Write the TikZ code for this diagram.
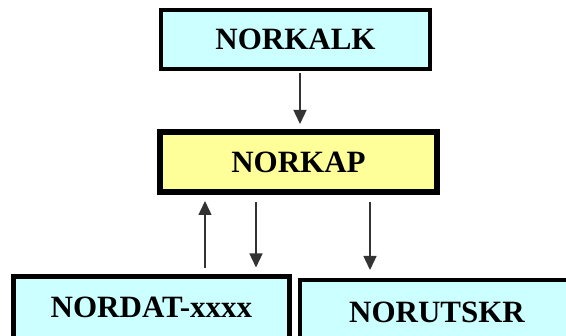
\documentclass[tikz,border=0pt]{standalone}
\usepackage{fontspec}
\setmainfont{Liberation Serif}
\usetikzlibrary{arrows.meta}
\definecolor{boxcyan}{HTML}{CCFFFF}
\definecolor{boxyellow}{HTML}{FFFF99}

\begin{document}
\begin{tikzpicture}[x=1pt, y=-1pt,
modbox/.style={rectangle, draw=black, fill=boxcyan, line width=4pt, font=\fontsize{31}{34}\selectfont\bfseries, inner sep=0pt},
mainbox/.style={modbox, fill=boxyellow, line width=6pt},
to/.style={-{Triangle[width=13pt,length=14pt]}, draw=black!80, line width=1.4pt},
]
\useasboundingbox[clip] (0,0) rectangle (566,336);
%nodes
\node[modbox, minimum width=269pt, minimum height=59pt](kalk) at (295.5, 39.5) {NORKALK};
\node[mainbox, minimum width=277pt, minimum height=60pt](kap) at (298.5, 162) {NORKAP};
\node[modbox, line width=5pt, minimum width=276pt, minimum height=62pt](dat) at (151.5, 307.5) {NORDAT-xxxx};
\node[modbox, minimum width=274pt, minimum height=64pt](utskr) at (437, 312) {NORUTSKR};
%connections
\draw[to, shorten <=2pt, shorten >=5pt] ([xshift=4.5pt]kalk.south) -- ([xshift=1.5pt]kap.north);
\draw[to, shorten <=6pt, shorten >=6pt] ([xshift=53.5pt]dat.north) -- ([xshift=-93.5pt]kap.south);
\draw[to, shorten <=7pt, shorten >=6.5pt] ([xshift=-42.5pt]kap.south) -- ([xshift=104.5pt]dat.north);
\draw[to, shorten <=7pt, shorten >=8pt] ([xshift=71.5pt]kap.south) -- ([xshift=-67pt]utskr.north);
\end{tikzpicture}
\end{document}
